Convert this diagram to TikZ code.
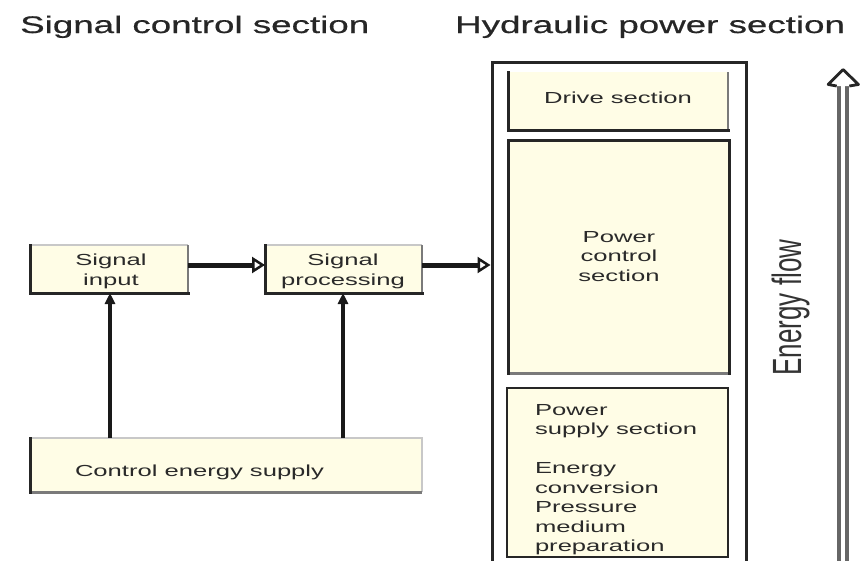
\documentclass[tikz,border=0pt]{standalone}
\usepackage{fontspec}
\setmainfont{Liberation Sans}
\newfontfamily\boxfont[FakeStretch=1.6]{Liberation Sans}
\newfontfamily\titlefont[FakeStretch=1.53,FakeBold=0.6]{Liberation Sans}
\usepackage{graphicx}
\usetikzlibrary{arrows.meta}
\definecolor{boxfill}{HTML}{FFFDE6}
\definecolor{edgedark}{HTML}{262626}
\definecolor{edgelight}{HTML}{C8C8C8}
\definecolor{edgemid}{HTML}{7A7A7A}
\definecolor{txt}{HTML}{2A2A2A}
\definecolor{flowgrey}{HTML}{666666}
\begin{document}
\begin{tikzpicture}[x=1pt,y=-1pt,
  panel/.style={rectangle, fill=boxfill, inner sep=0pt, outer sep=0pt},
  btext/.style={font=\boxfont\fontsize{16}{19.5}\selectfont, text=txt, inner sep=0pt, outer sep=0pt},
  ttext/.style={font=\titlefont\fontsize{24}{28}\selectfont, text=black!85, inner sep=0pt, anchor=base west},
  darkedge/.style={draw=edgedark, line width=3pt, line cap=rect},
  lightedge/.style={draw=edgelight, line width=1.2pt},
  midedge/.style={draw=edgemid, line width=1.8pt},
  sigarrow/.style={draw=black!90, line width=5pt, -{Triangle[open, length=13pt, width=16pt, line width=2.5pt]}},
  vup/.style={draw=black!90, line width=3.5pt, -{Triangle[length=11pt, width=10pt]}}
]
\useasboundingbox (0,0) rectangle (868,560);

% titles
\node[ttext] (title1) at (20,33) {Signal control section};
\node[ttext] (title2) at (455,33) {Hydraulic power section};

% outer hydraulic frame
\node[rectangle, draw=edgedark, line width=3pt, minimum width=254pt, minimum height=512pt, inner sep=0pt] (outer) at (619,318) {};

% drive section
\node[panel, minimum width=220pt, minimum height=58pt] (drive) at (618,101) {};
\draw[midedge] (drive.north east) -- (drive.south east);
\draw[darkedge] (drive.north west) -- (drive.south west) -- (drive.south east);
\node[btext, anchor=base] (drive-t) at (618,103.5) {Drive section};

% power control section
\node[panel, minimum width=221pt, minimum height=233pt] (pctrl) at (618.5,256.5) {};
\draw[draw=edgemid, line width=3pt] (pctrl.south west) -- (pctrl.south east);
\draw[darkedge] (pctrl.south west) -- (pctrl.north west) -- (pctrl.north east) -- (pctrl.south east);
\node[btext, align=center, anchor=north] (pctrl-t) at (619,231.3) {Power\\control\\section};

% power supply section
\node[panel, minimum width=221pt, minimum height=169pt] (psup) at (617.5,472.5) {};
\draw[darkedge, line width=2.6pt] (psup.north west) rectangle (psup.south east);
\node[btext, align=left, anchor=north west] (psup-t) at (535,404.3) {Power\\supply section\\[19.5pt]Energy\\conversion\\Pressure\\medium\\preparation};

% signal input
\node[panel, minimum width=158pt, minimum height=48pt] (sin) at (109,269) {};
\draw[lightedge] (sin.north west) -- (sin.north east);
\draw[midedge] (sin.north east) -- (sin.south east);
\draw[darkedge] (sin.north west) -- (sin.south west) -- (sin.south east);
\node[btext, align=center, anchor=north] (sin-t) at (111,254.3) {Signal\\input};

% signal processing
\node[panel, minimum width=157pt, minimum height=48pt] (sproc) at (343.5,269) {};
\draw[lightedge] (sproc.north west) -- (sproc.north east);
\draw[midedge] (sproc.north east) -- (sproc.south east);
\draw[darkedge] (sproc.north west) -- (sproc.south west) -- (sproc.south east);
\node[btext, align=center, anchor=north] (sproc-t) at (343,254.3) {Signal\\processing};

% control energy supply
\node[panel, minimum width=392pt, minimum height=54pt] (ces) at (226,465) {};
\draw[lightedge] (ces.north west) -- (ces.north east) -- (ces.south east);
\draw[draw=edgemid, line width=3pt] (ces.south west) -- (ces.south east);
\draw[darkedge] (ces.north west) -- (ces.south west);
\node[btext, anchor=base west] (ces-t) at (75,476.5) {Control energy supply};

% signal flow arrows
\coordinate (p1) at ([yshift=4pt]sin.east);
\coordinate (p2) at ([yshift=4pt]sproc.east);
\draw[sigarrow] (p1) -- (p1 -| sproc.west);
\draw[sigarrow] (p2) -- (p2 -| outer.west);

% control energy arrows
\draw[vup] (ces.north -| 110,0) -- (sin.south -| 110,0);
\draw[vup] (ces.north -| 343,0) -- (sproc.south -| 343,0);

% energy flow arrow
\coordinate (fbot) at (843,565);
\coordinate (ftop) at (843,86);
\draw[draw=flowgrey, line width=4.4pt, double=white, double distance=3.4pt] (fbot) -- (ftop);
\draw[draw=black!85, fill=white, line width=2.8pt, line join=round]
  ([xshift=-6.3pt]ftop) -- ++(-8.5,-1.5) -- (843,69.5) -- (858.5,84.5) -- ([xshift=6.3pt]ftop);
\node[rotate=90, anchor=base, inner sep=0pt, text=black!80, font=\fontsize{26}{30}\selectfont] (flow-t) at (801,307.5) {\scalebox{1}[1.57]{Energy flow}};
\end{tikzpicture}
\end{document}
